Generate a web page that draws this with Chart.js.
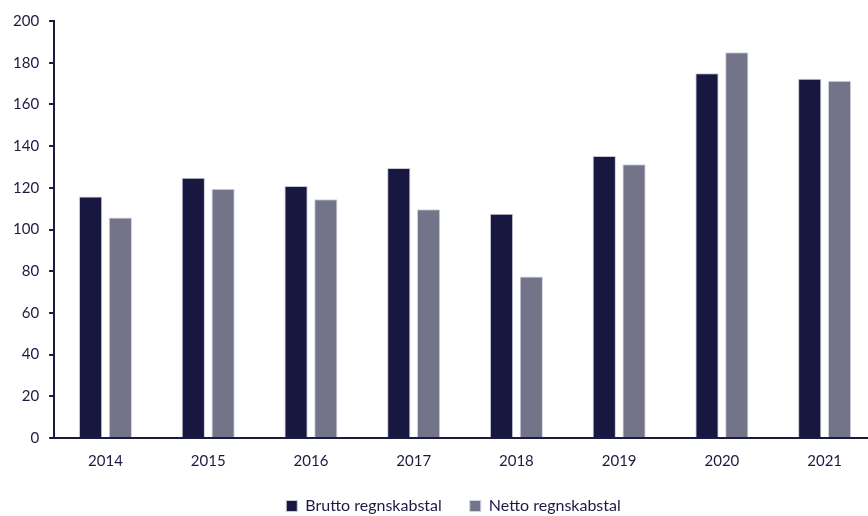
<!DOCTYPE html>
<html>
<head>
<meta charset="utf-8">
<script src="https://cdn.jsdelivr.net/npm/chart.js@4"></script>
<style>
  html, body { margin: 0; padding: 0; background: #fff; overflow: hidden; }
  #wrap { width: 880px; height: 526px; position: relative; }
</style>
</head>
<body>
<div id="wrap"><canvas id="chart"></canvas></div>
<script>
const years = ["2014", "2015", "2016", "2017", "2018", "2019", "2020", "2021"];
const brutto = [115.8, 124.8, 120.9, 129.5, 107.6, 135.3, 174.9, 172.3];
const netto = [105.7, 119.5, 114.5, 109.7, 77.4, 131.3, 185.0, 171.4];
const yTicks = [0, 20, 40, 60, 80, 100, 120, 140, 160, 180, 200];

const textColor = "#1b1b42";
const axisColor = "#1b1b42";

Chart.defaults.font.family = "Lato, 'Open Sans', sans-serif";
Chart.defaults.font.size = 15;
Chart.defaults.color = textColor;

// legend sits a bit right of the canvas centre in the original
const legendShift = {
  id: "legendShift",
  afterLayout(chart) {
    chart.legend.left += 14;
    chart.legend.right += 14;
  }
};

const ctx = document.getElementById("chart").getContext("2d");
new Chart(ctx, {
  type: "bar",
  data: {
    labels: years,
    datasets: [
      {
        label: "Brutto regnskabstal",
        data: brutto,
        backgroundColor: "#17173f",
        borderColor: "#c9c9d6",
        borderWidth: 1,
        categoryPercentage: 0.58,
        barPercentage: 0.78
      },
      {
        label: "Netto regnskabstal",
        data: netto,
        backgroundColor: "#737389",
        borderColor: "#d3d3de",
        borderWidth: 1,
        categoryPercentage: 0.58,
        barPercentage: 0.78
      }
    ]
  },
  plugins: [legendShift],
  options: {
    responsive: true,
    maintainAspectRatio: false,
    animation: false,
    layout: { padding: { left: 3, right: 4, top: 21, bottom: 2 } },
    plugins: {
      legend: {
        position: "bottom",
        labels: {
          boxWidth: 11,
          boxHeight: 11,
          padding: 28,
          color: textColor,
          font: { size: 16 }
        }
      },
      tooltip: { enabled: false }
    },
    scales: {
      x: {
        grid: { display: false, drawTicks: false },
        border: { display: true, color: axisColor, width: 2 },
        ticks: { padding: 14, color: textColor },
        afterFit: (scale) => { scale.height -= 14; }
      },
      y: {
        min: 0,
        max: 200,
        afterBuildTicks: (axis) => { axis.ticks = yTicks.map(v => ({ value: v })); },
        grid: { drawOnChartArea: false, drawTicks: true, tickLength: 5, color: axisColor, lineWidth: 2 },
        border: { display: true, color: axisColor, width: 2 },
        ticks: { padding: 10, color: textColor }
      }
    }
  }
});
</script>
</body>
</html>
